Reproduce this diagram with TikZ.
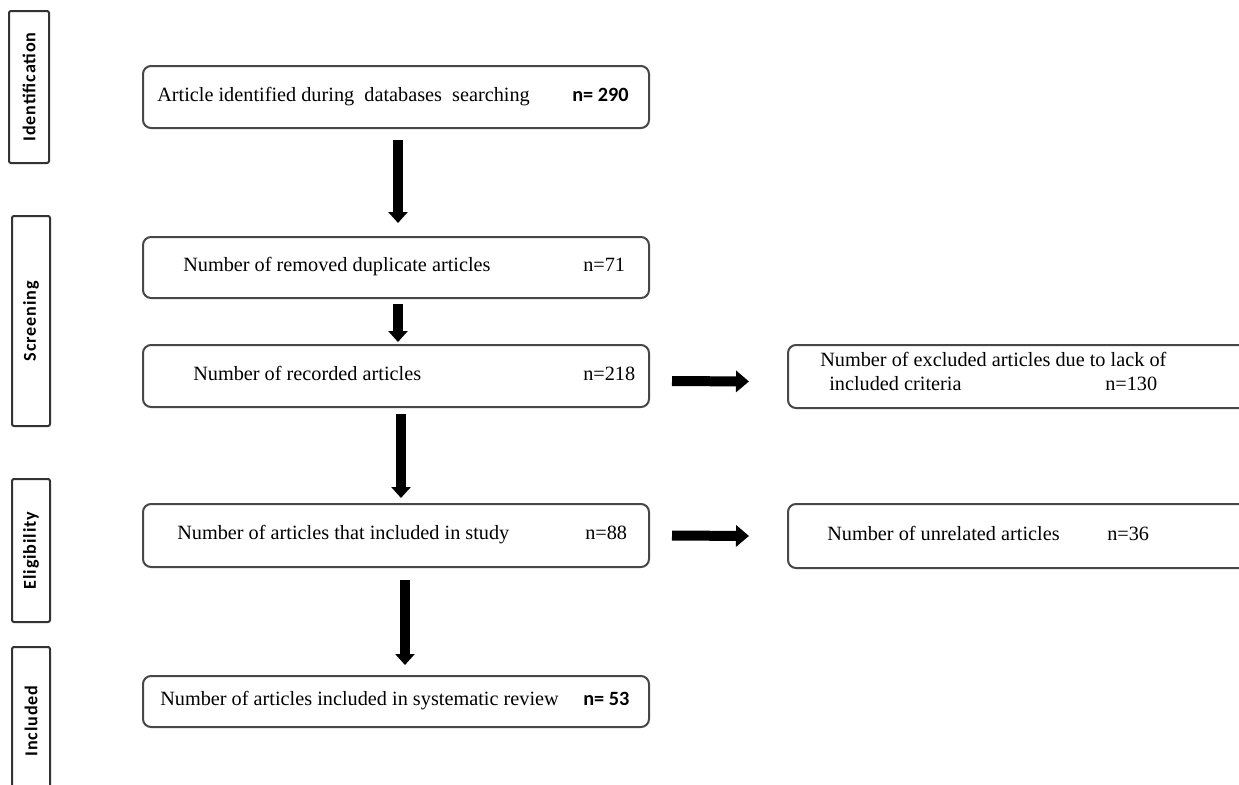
\documentclass[tikz,border=0pt]{standalone}
\usepackage{fontspec}
\setmainfont{Liberation Serif}
\newfontfamily\labfont[LetterSpace=5]{Carlito}
\newfontfamily\numfont{Carlito}
\usetikzlibrary{arrows.meta,calc}
\newdimen\pxu \pxu=0.75pt
\begin{document}
\begin{tikzpicture}[x=0.75pt, y=-0.75pt,
  box/.style={draw=black!72, line width=1.5pt, rounded corners=6pt, inner sep=0pt, anchor=north west},
  side/.style={draw=black!80, line width=1.5pt, rounded corners=1.5pt, inner sep=0pt, rotate=90,
    font=\labfont\bfseries\fontsize{13.6}{15}\selectfont},
  txt/.style={inner sep=0pt, anchor=west, text height=10pt, text depth=3.3pt,
    font=\fontsize{15.2}{18}\selectfont},
  num/.style={txt, font=\numfont\bfseries\fontsize{15.2}{18}\selectfont},
  varrow/.style={line width=7.5pt, -{Triangle[width=14.25pt,length=8.25pt]}},
  harrow/.style={line width=7.5pt, -{Triangle[width=15.75pt,length=9.75pt]}}
]
\useasboundingbox (0,0) rectangle (1239,785);
\clip (0,0) rectangle (1239,785);

% side labels
\node[side, minimum width=152\pxu, minimum height=40\pxu] (sI) at (29,87) {Identification};
\node[side, minimum width=210\pxu, minimum height=38\pxu] (sS) at (31,321) {Screening};
\node[side, minimum width=143\pxu, minimum height=38\pxu] (sE) at (31,550.5) {Eligibility};
\node[side, minimum width=148\pxu, minimum height=38\pxu] (sN) at (31,721) {Included};

% main boxes
\node[box, minimum width=506\pxu, minimum height=62\pxu] (b1) at (142,65) {};
\node[box, minimum width=506\pxu, minimum height=61\pxu] (b2) at (142,236) {};
\node[box, minimum width=506\pxu, minimum height=62\pxu] (b3) at (142,344) {};
\node[box, minimum width=506\pxu, minimum height=63\pxu] (b4) at (142,503) {};
\node[box, minimum width=506\pxu, minimum height=51\pxu] (b5) at (142,675) {};
\node[box, minimum width=480\pxu, minimum height=63\pxu] (r1) at (787,344) {};
\node[box, minimum width=480\pxu, minimum height=64\pxu] (r2) at (787,503) {};

% texts
\node[txt] (t1) at ($(b1.west)+(15,0)$) {Article identified during\ \ databases\ \ searching};
\node[num] (n1) at ($(b1.west)+(430,0)$) {n= 290};
\node[txt] (t2) at ($(b2.west)+(41,0)$) {Number of removed duplicate articles};
\node[txt] (n2) at ($(b2.west)+(441,0)$) {n=71};
\node[txt] (t3) at ($(b3.west)+(51,0)$) {Number of recorded articles};
\node[txt] (n3) at ($(b3.west)+(441,0)$) {n=218};
\node[txt] (t4) at ($(b4.west)+(35,0)$) {Number of articles that included in study};
\node[txt] (n4) at ($(b4.west)+(443,0)$) {n=88};
\node[txt] (t5) at ($(b5.west)+(18,0)$) {Number of articles included in systematic review};
\node[num] (n5) at ($(b5.west)+(441,0)$) {n= 53};
\node[txt] (r1a) at ($(r1.north west)+(33,18)$) {Number of excluded articles due to lack of};
\node[txt] (r1b) at ($(r1.north west)+(42,42)$) {included criteria};
\node[txt] (r1n) at ($(r1.north west)+(318,42)$) {n=130};
\node[txt] (t6) at ($(r2.west)+(40,0)$) {Number of unrelated articles};
\node[txt] (n6) at ($(r2.west)+(320,0)$) {n=36};

% arrows
\draw[varrow] ($(b1.south)+(2,11)$) -- ($(b2.north)+(2,-13)$);
\draw[varrow] ($(b2.south)+(2,5)$) -- ($(b3.north)+(2,-2)$);
\draw[varrow] ($(b3.south)+(5,6)$) -- ($(b4.north)+(5,-5)$);
\draw[varrow] ($(b4.south)+(9,12)$) -- ($(b5.north)+(9,-10)$);
\draw[harrow] ($(b3.east)+(22,5)$) -- ($(r1.west)+(-38,5)$);
\draw[harrow] ($(b4.east)+(22,0)$) -- ($(r2.west)+(-38,0)$);
\end{tikzpicture}
\end{document}
